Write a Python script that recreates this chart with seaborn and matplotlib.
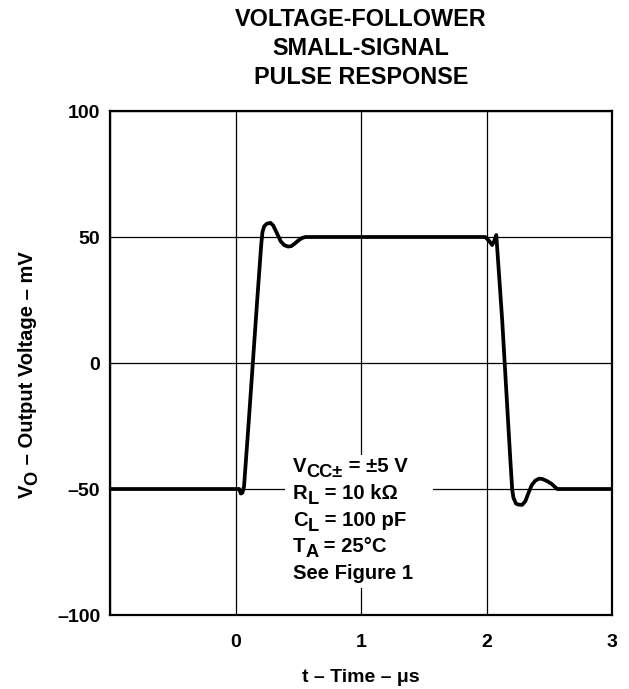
import matplotlib
matplotlib.use("Agg")
import matplotlib.pyplot as plt
import matplotlib.transforms as mtransforms
from matplotlib.patches import Rectangle
import pandas as pd
import seaborn as sns

# ---------------- data ----------------
time_us = [-1.0, 0.03, 0.042, 0.055, 0.068, 0.106, 0.173, 0.205, 0.215, 0.228,
           0.25, 0.279, 0.30, 0.33, 0.36, 0.39, 0.42, 0.445, 0.47, 0.50, 0.53,
           0.558, 1.99, 2.02, 2.045, 2.062, 2.078, 2.125, 2.19, 2.205, 2.215,
           2.235, 2.255, 2.284, 2.31, 2.335, 2.36, 2.39, 2.42, 2.444, 2.48,
           2.52, 2.545, 2.563, 3.0]
vout_mv = [-50.0, -50.0, -51.8, -51.5, -49.0, -22.9, 25.0, 47.0, 52.0, 54.2,
           55.3, 55.6, 54.6, 51.5, 48.3, 46.7, 46.2, 46.4, 47.3, 48.6, 49.6,
           50.0, 50.0, 48.5, 46.8, 48.5, 50.8, 17.0, -38.5, -50.4, -53.5,
           -55.8, -56.2, -56.3, -54.8, -51.5, -48.5, -46.6, -45.9, -46.0, -46.8,
           -48.0, -49.2, -50.0, -50.0]

x_ticks = [-1, 0, 1, 2, 3]
x_tick_labels = ["", "0", "1", "2", "3"]
y_ticks = [-100, -50, 0, 50, 100]
y_tick_labels = ["\u2013100", "\u201350", "0", "50", "100"]

title_lines = ["VOLTAGE-FOLLOWER", "SMALL-SIGNAL", "PULSE RESPONSE"]
x_label = "t \u2013 Time \u2013 \u03bcs"
y_label_pieces = [("V", False), ("O", True), (" \u2013 Output Voltage \u2013 mV", False)]
condition_lines = [
    [("V", False), ("CC\u00b1", True), (" = \u00b15 V", False)],
    [("R", False), ("L", True), (" = 10 k\u03a9", False)],
    [("C", False), ("L", True), (" = 100 pF", False)],
    [("T", False), ("A", True), (" = 25\u00b0C", False)],
    [("See Figure 1", False)],
]

# ---------------- style ----------------
sns.set_theme(style="white")
plt.rcParams["font.family"] = ["Liberation Sans", "DejaVu Sans"]
plt.rcParams["font.weight"] = "bold"

W, H = 629, 689
fig = plt.figure(figsize=(W / 100, H / 100), dpi=100)
ax = fig.add_axes([110 / W, 1 - 615 / H, 502 / W, 504 / H])

df = pd.DataFrame({"t": time_us, "v": vout_mv})
sns.lineplot(data=df, x="t", y="v", ax=ax, color="black", linewidth=2.7,
             sort=False, estimator=None, zorder=3)

ax.set_xlim(-1, 3)
ax.set_ylim(-100, 100)
ax.set_xticks(x_ticks, x_tick_labels)
ax.set_yticks(y_ticks, y_tick_labels)
ax.tick_params(length=0, labelsize=14, colors="black")
ax.tick_params(axis="x", pad=14.0)
ax.tick_params(axis="y", pad=7.0)
for lab in ax.get_xticklabels() + ax.get_yticklabels():
    lab.set_fontweight("bold")
ax.grid(True, color="black", linewidth=0.9)
ax.set_axisbelow(True)
for s in ax.spines.values():
    s.set_visible(True)
    s.set_color("black")
    s.set_linewidth(1.6)

ax.set_xlabel(x_label, fontsize=14, fontweight="bold", color="black")
ax.xaxis.set_label_coords(0.5, -0.1329)
ax.xaxis.label.set_va("baseline")
ax.set_ylabel("")

# white background behind the conditions block
ax.add_patch(Rectangle((0.3486, 0.0536), 0.2948, 0.264, transform=ax.transAxes,
                       facecolor="white", edgecolor="none", zorder=1))

renderer = fig.canvas.get_renderer()
ident = mtransforms.IdentityTransform()


def draw_pieces(x, y, pieces, size, rotated=False, sub_shift=5.0, sub_scale=0.9):
    for s, sub in pieces:
        fs = size * sub_scale if sub else size
        if not rotated:
            t = fig.text(x, y - (sub_shift if sub else 0), s, transform=ident,
                         fontsize=fs, fontweight="bold", ha="left", va="baseline",
                         color="black")
            bb = t.get_window_extent(renderer)
            x = bb.x1
        else:
            t = fig.text(x + (sub_shift if sub else 0), y, s, transform=ident,
                         fontsize=fs, fontweight="bold", ha="left", va="baseline",
                         rotation=90, rotation_mode="anchor", color="black")
            bb = t.get_window_extent(renderer)
            y = bb.y1


# conditions block
baselines = [472, 499, 526, 552, 579]
for line, py in zip(condition_lines, baselines):
    draw_pieces(293, H - py, line, 14.6)

# y label (rotated, with subscript)
draw_pieces(33, H - 498, y_label_pieces, 14.5, rotated=True, sub_shift=4.5)

# title
for txt, py in zip(title_lines, [25.7, 55.0, 84.0]):
    fig.text(361, H - py, txt, transform=ident, fontsize=16.8, fontweight="bold",
             ha="center", va="baseline", color="black")

fig.savefig("out.png", dpi=100)
